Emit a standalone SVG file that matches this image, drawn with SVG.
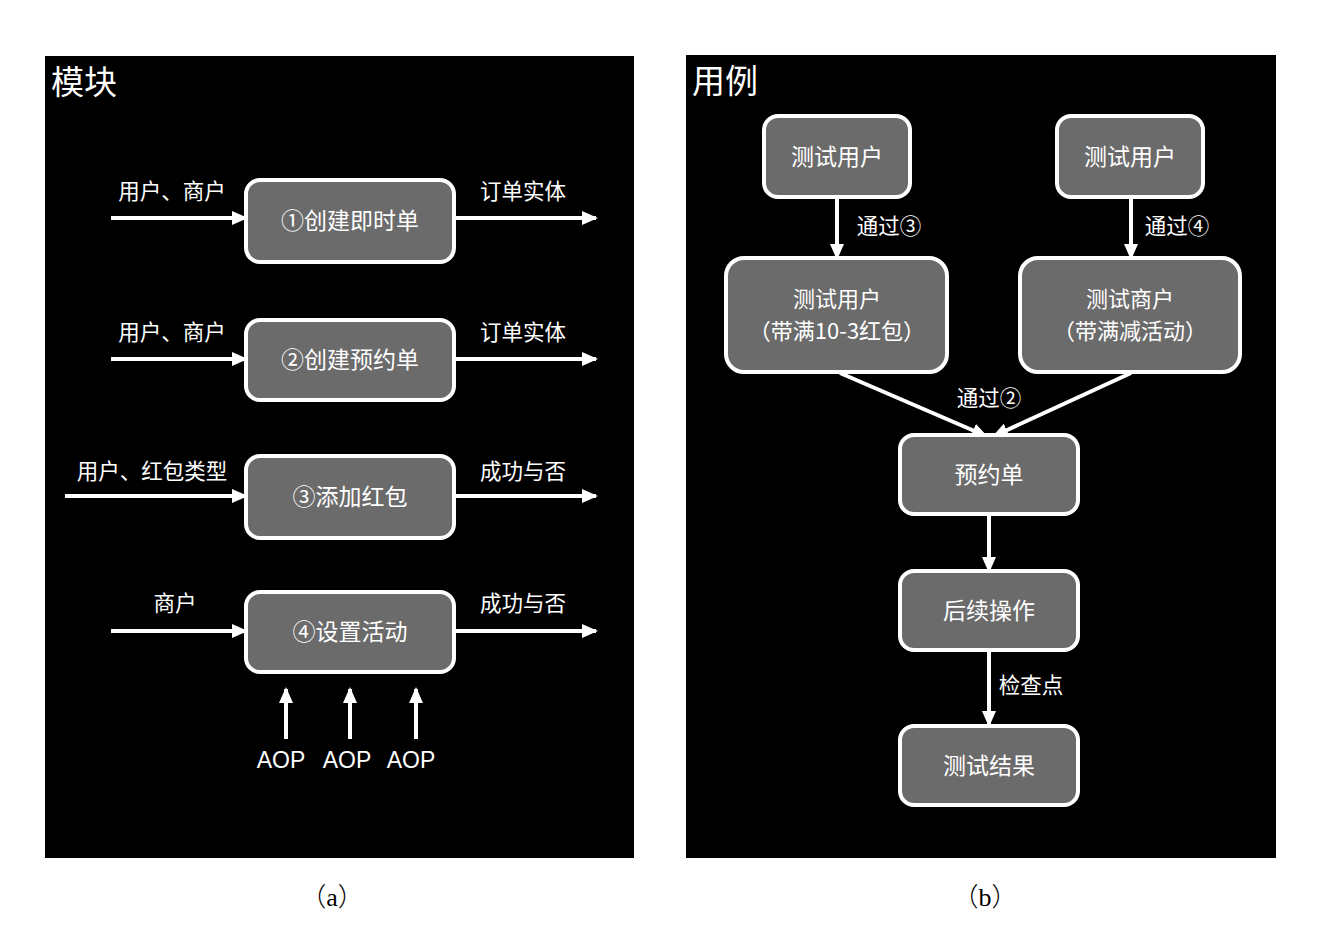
<svg xmlns="http://www.w3.org/2000/svg" width="1324" height="928" viewBox="0 0 1324 928">
<style>
.panel{fill:#000}
.box{fill:#6b6b6b;stroke:#fff;stroke-width:4}
.t{font-family:"Noto Sans CJK SC","Liberation Sans",sans-serif;fill:#fff;text-anchor:middle}
.nt{font-size:23px}
.nt2{font-size:22px}
.lbl{font-size:21.5px}
.ttl{font-size:33px;text-anchor:start}
.aop{font-family:"Liberation Sans",Arial,sans-serif;font-size:23px;fill:#fff;text-anchor:middle}
.cap{font-family:"Liberation Serif","Noto Sans CJK SC",serif;font-size:26px;fill:#000;text-anchor:middle}
.par{font-family:"Noto Sans CJK SC",sans-serif;font-weight:300}
.ln{stroke:#fff;stroke-width:4;fill:none;marker-end:url(#ah)}
</style>
<defs>
<marker id="ah" markerUnits="userSpaceOnUse" markerWidth="16" markerHeight="16" viewBox="0 0 16 16" refX="14" refY="8" orient="auto">
<path d="M0,1 L16,8 L0,15 Z" fill="#fff"/>
</marker>
</defs>
<rect width="1324" height="928" fill="#fff"/>
<rect class="panel" x="45" y="56" width="589" height="802"/>
<rect class="panel" x="686" y="55" width="590" height="803"/>
<text class="t ttl" x="51" y="94">模块</text>
<text class="t ttl" x="692" y="93">用例</text>

<g id="connectors">
<line class="ln" x1="111" y1="218" x2="246" y2="218"/>
<line class="ln" x1="454" y1="218" x2="596" y2="218"/>
<line class="ln" x1="111" y1="359" x2="246" y2="359"/>
<line class="ln" x1="454" y1="359" x2="596" y2="359"/>
<line class="ln" x1="65" y1="496" x2="246" y2="496"/>
<line class="ln" x1="454" y1="496" x2="596" y2="496"/>
<line class="ln" x1="111" y1="631" x2="246" y2="631"/>
<line class="ln" x1="454" y1="631" x2="596" y2="631"/>
<line class="ln" x1="286" y1="739" x2="286" y2="689"/>
<line class="ln" x1="350" y1="739" x2="350" y2="689"/>
<line class="ln" x1="416" y1="739" x2="416" y2="689"/>
<line class="ln" x1="837" y1="197" x2="837" y2="258"/>
<line class="ln" x1="1131" y1="197" x2="1131" y2="258"/>
<line class="ln" x1="840" y1="373" x2="986" y2="436"/>
<line class="ln" x1="1131" y1="373" x2="994" y2="436"/>
<line class="ln" x1="989" y1="514" x2="989" y2="571"/>
<line class="ln" x1="989" y1="650" x2="989" y2="725"/>
</g>

<g id="labels">
<text class="t lbl" x="172" y="199">用户、商户</text>
<text class="t lbl" x="523" y="199">订单实体</text>
<text class="t lbl" x="172" y="340">用户、商户</text>
<text class="t lbl" x="523" y="340">订单实体</text>
<text class="t lbl" x="152" y="479">用户、红包类型</text>
<text class="t lbl" x="523" y="479">成功与否</text>
<text class="t lbl" x="175" y="611">商户</text>
<text class="t lbl" x="523" y="611">成功与否</text>
<text class="aop" x="281" y="768">AOP</text>
<text class="aop" x="347" y="768">AOP</text>
<text class="aop" x="411" y="768">AOP</text>
<text class="t lbl" x="889" y="234">通过③</text>
<text class="t lbl" x="1177" y="234">通过④</text>
<text class="t lbl" x="989" y="406">通过②</text>
<text class="t lbl" x="1031" y="693">检查点</text>
</g>

<g id="n1"><rect class="box" x="246" y="180" width="208" height="82" rx="14"/><text class="t nt" x="350" y="229">①创建即时单</text></g>
<g id="n2"><rect class="box" x="246" y="320" width="208" height="80" rx="14"/><text class="t nt" x="350" y="368">②创建预约单</text></g>
<g id="n3"><rect class="box" x="246" y="456" width="208" height="82" rx="14"/><text class="t nt" x="350" y="505">③添加红包</text></g>
<g id="n4"><rect class="box" x="246" y="592" width="208" height="80" rx="14"/><text class="t nt" x="350" y="640">④设置活动</text></g>

<g id="u1"><rect class="box" x="764" y="116" width="146" height="81" rx="14"/><text class="t nt" x="837" y="165">测试用户</text></g>
<g id="u2"><rect class="box" x="1057" y="116" width="146" height="81" rx="14"/><text class="t nt" x="1130" y="165">测试用户</text></g>
<g id="u3"><rect class="box" x="726" y="258" width="221" height="114" rx="18"/><text class="t nt2" x="837" y="307">测试用户</text><text class="t nt2" x="837" y="339">（带满10-3红包）</text></g>
<g id="u4"><rect class="box" x="1020" y="258" width="220" height="114" rx="18"/><text class="t nt2" x="1130" y="307">测试商户</text><text class="t nt2" x="1130" y="339">（带满减活动）</text></g>
<g id="u5"><rect class="box" x="900" y="435" width="178" height="79" rx="14"/><text class="t nt" x="989" y="483">预约单</text></g>
<g id="u6"><rect class="box" x="900" y="571" width="178" height="79" rx="14"/><text class="t nt" x="989" y="619">后续操作</text></g>
<g id="u7"><rect class="box" x="900" y="726" width="178" height="79" rx="14"/><text class="t nt" x="989" y="774">测试结果</text></g>

<text class="cap" x="332" y="906"><tspan class="par">（</tspan>a<tspan class="par">）</tspan></text>
<text class="cap" x="985" y="906"><tspan class="par">（</tspan>b<tspan class="par">）</tspan></text>
</svg>
